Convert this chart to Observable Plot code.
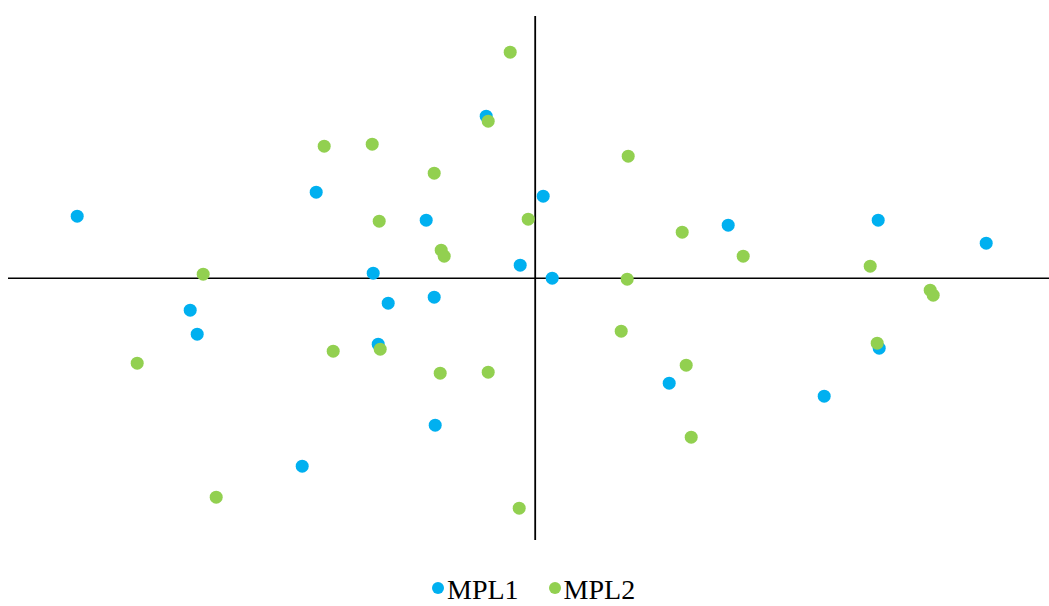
<!DOCTYPE html>
<html>
<head>
<meta charset="utf-8">
<script src="https://cdn.jsdelivr.net/npm/d3@7"></script>
<script src="https://cdn.jsdelivr.net/npm/@observablehq/plot@0.6"></script>
<style>
  html, body { margin: 0; padding: 0; background: #fff; }
  body { position: relative; width: 1049px; height: 606px; overflow: hidden; }
  #chart svg { display: block; }
  #legend {
    position: absolute; top: 579px; left: 0;
    display: flex; align-items: flex-start;
    padding-left: 432px;
    font-family: "Liberation Serif", "Times New Roman", serif; font-size: 28px; line-height: 22px; color: #000;
    white-space: nowrap;
  }
  .item { display: flex; align-items: flex-start; }
  .dot { width: 12px; height: 12px; border-radius: 50%; margin-top: 3px; margin-right: 3px; flex: none; }
</style>
</head>
<body>
<div id="chart"></div>
<div id="legend"></div>
<script>
const seriesNames = ["MPL1", "MPL2"];
const seriesColors = ["#00B0F0", "#92D050"];

const mpl1X = [-45.8, -21.9, -4.9, 0.8, -10.9, -16.2, -1.5, 1.7, 19.3, 34.3, 45.1, -34.5, -33.8, -23.3, -14.7, -10.1, -15.7, -10.0, 13.4, 34.4, 28.9];
const mpl1Y = [6.2, 8.6, 16.2, 8.2, 5.8, 0.5, 1.3, 0.0, 5.3, 5.8, 3.5, -3.2, -5.6, -18.8, -2.5, -1.9, -6.6, -14.7, -10.5, -7.0, -11.8];

const mpl2X = [-21.1, -33.2, -2.5, -4.7, -16.3, -10.1, -15.6, -0.7, -9.4, -9.1, 9.3, 14.7, 9.2, 20.8, 33.5, -39.8, -20.2, -31.9, -15.5, -9.5, -4.7, -1.6, 8.6, 15.1, 15.6, 39.5, 39.8, 34.2];
const mpl2Y = [13.2, 0.4, 22.6, 15.7, 13.4, 10.5, 5.7, 5.9, 2.8, 2.2, 12.2, 4.6, -0.1, 2.2, 1.2, -8.5, -7.3, -21.9, -7.1, -9.5, -9.4, -23.0, -5.3, -8.7, -15.9, -1.2, -1.7, -6.5];

const xDomain = [-52.67, 51.43];
const yDomain = [-26.23, 26.17];

const data = [
  ...mpl1X.map((x, i) => ({series: seriesNames[0], x, y: mpl1Y[i]})),
  ...mpl2X.map((x, i) => ({series: seriesNames[1], x, y: mpl2Y[i]}))
];

const chart = Plot.plot({
  width: 1049,
  height: 545,
  marginLeft: 8,
  marginRight: 0,
  marginTop: 16,
  marginBottom: 5,
  x: {domain: xDomain, axis: null},
  y: {domain: yDomain, axis: null},
  color: {domain: seriesNames, range: seriesColors},
  marks: [
    Plot.ruleY([0], {stroke: "#000", strokeWidth: 1.6}),
    Plot.ruleX([0], {stroke: "#000", strokeWidth: 1.8}),
    Plot.dot(data, {x: "x", y: "y", fill: "series", r: 6.5, stroke: "none"})
  ]
});
document.getElementById("chart").appendChild(chart);

const legend = document.getElementById("legend");
seriesNames.forEach((name, i) => {
  const item = document.createElement("div");
  item.className = "item";
  if (i > 0) item.style.marginLeft = "30px";
  const dot = document.createElement("span");
  dot.className = "dot";
  dot.style.background = seriesColors[i];
  const label = document.createElement("span");
  label.textContent = name;
  item.appendChild(dot);
  item.appendChild(label);
  legend.appendChild(item);
});
</script>
</body>
</html>
